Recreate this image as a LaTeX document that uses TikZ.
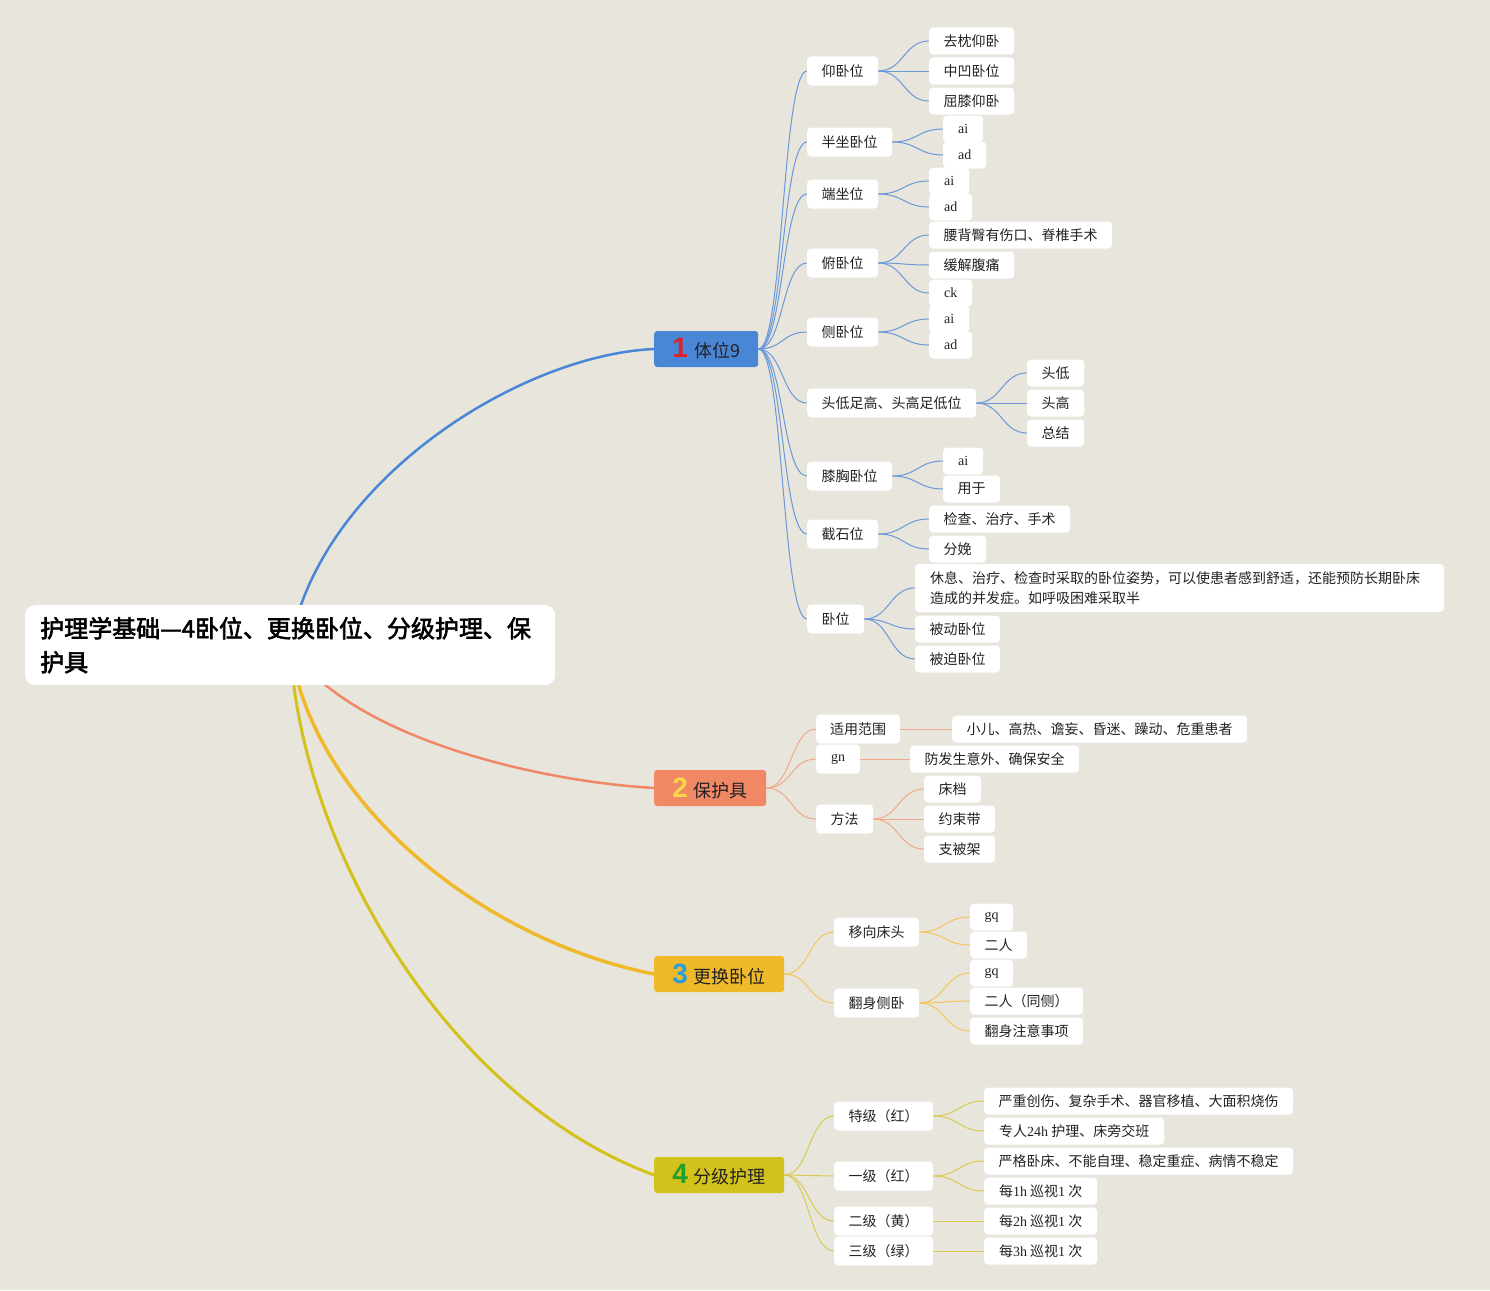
\documentclass[tikz,border=0pt]{standalone}
\usepackage{fontspec}
\setmainfont{Noto Sans CJK SC}
\newfontfamily\latf{Liberation Serif}
\newfontfamily\numf{Liberation Sans}
\newfontfamily\rootf{Noto Sans CJK SC}[FakeBold=2.5]
\newcommand\la[1]{{\latf #1}}
\definecolor{bgc}{HTML}{E8E5DD}
\definecolor{cblue}{HTML}{4A86D6}
\definecolor{csal}{HTML}{F08866}
\definecolor{corg}{HTML}{F0B92C}
\definecolor{cyel}{HTML}{D4C21C}
\definecolor{tblue}{HTML}{6A98D8}
\definecolor{tsal}{HTML}{F0A888}
\definecolor{torg}{HTML}{F2C658}
\definecolor{tyel}{HTML}{DACB50}
\definecolor{nred}{HTML}{E0202A}
\definecolor{nyel}{HTML}{F8D848}
\definecolor{nblu}{HTML}{2A9ED8}
\definecolor{ngrn}{HTML}{22A028}
\definecolor{txt}{HTML}{222222}
\pgfdeclarelayer{bgl}
\pgfdeclarelayer{edges}
\pgfsetlayers{bgl,edges,main}
\newcommand\myedge[3]{\draw[#1] (#2.east) .. controls +(25,0) and +(-25,0) .. (#3.west);}
\tikzset{
  leaf/.style={fill=white, rounded corners=4pt, inner xsep=0pt, inner ysep=0pt,
    minimum height=27pt, anchor=west, text=txt, font=\fontsize{14}{17}\selectfont},
  subn/.style={leaf, minimum height=29pt},
  branch/.style={rounded corners=3pt, inner xsep=0pt, inner ysep=0pt,
    minimum height=36pt, anchor=west, text=txt, font=\fontsize{18}{22}\selectfont},
  e1/.style={tblue, line width=1pt},
  e2/.style={tsal, line width=1pt},
  e3/.style={torg, line width=1pt},
  e4/.style={tyel, line width=1pt},
}
\newcommand\dg[2]{{\color{#1}\numf\bfseries\fontsize{28}{28}\selectfont #2}\hspace{6pt}}
\begin{document}
\begin{tikzpicture}[x=1pt,y=-1pt]
\begin{pgfonlayer}{bgl}
\fill[bgc] (0,0) rectangle (1490,1290);
\end{pgfonlayer}
\useasboundingbox (0,0) rectangle (1490,1290);

% root
\node[fill=white, rounded corners=10pt, anchor=north west, minimum width=530pt, minimum height=80pt,
  inner xsep=15pt, inner ysep=0pt, text width=500pt, align=left, text=black,
  font=\rootf\fontsize{24}{34}\selectfont] (root) at (25,605)
  {护理学基础—4卧位、更换卧位、分级护理、保\\护具};

% branches
\node[branch, fill=cblue, minimum width=104pt] (b1) at (654,349) {\dg{nred}{1}体位9};
\node[branch, fill=csal, minimum width=112pt] (b2) at (654,788) {\dg{nyel}{2}保护具};
\node[branch, fill=corg, minimum width=130pt] (b3) at (654,974) {\dg{nblu}{3}更换卧位};
\node[branch, fill=cyel, minimum width=130pt] (b4) at (654,1175) {\dg{ngrn}{4}分级护理};

% branch 1 subs
\node[subn, minimum width=71pt] (s11) at (807,71) {仰卧位};
\node[subn, minimum width=85pt] (s12) at (807,142) {半坐卧位};
\node[subn, minimum width=71pt] (s13) at (807,194) {端坐位};
\node[subn, minimum width=71pt] (s14) at (807,263) {俯卧位};
\node[subn, minimum width=71pt] (s15) at (807,332) {侧卧位};
\node[subn, minimum width=169pt] (s16) at (807,403) {头低足高、头高足低位};
\node[subn, minimum width=85pt] (s17) at (807,476) {膝胸卧位};
\node[subn, minimum width=71pt] (s18) at (807,534) {截石位};
\node[subn, minimum width=57pt] (s19) at (807,619) {卧位};

% branch 1 leaves
\node[leaf, minimum width=85pt] (l111) at (929,41) {去枕仰卧};
\node[leaf, minimum width=85pt] (l112) at (929,71) {中凹卧位};
\node[leaf, minimum width=85pt] (l113) at (929,101) {屈膝仰卧};
\node[leaf, minimum width=40pt] (l121) at (943,129) {\la{ai}};
\node[leaf, minimum width=43pt] (l122) at (943,155) {\la{ad}};
\node[leaf, minimum width=40pt] (l131) at (929,181) {\la{ai}};
\node[leaf, minimum width=43pt] (l132) at (929,207) {\la{ad}};
\node[leaf, minimum width=183pt] (l141) at (929,235) {腰背臀有伤口、脊椎手术};
\node[leaf, minimum width=85pt] (l142) at (929,265) {缓解腹痛};
\node[leaf, minimum width=43pt] (l143) at (929,293) {\la{ck}};
\node[leaf, minimum width=40pt] (l151) at (929,319) {\la{ai}};
\node[leaf, minimum width=43pt] (l152) at (929,345) {\la{ad}};
\node[leaf, minimum width=57pt] (l161) at (1027,373) {头低};
\node[leaf, minimum width=57pt] (l162) at (1027,403) {头高};
\node[leaf, minimum width=57pt] (l163) at (1027,433) {总结};
\node[leaf, minimum width=40pt] (l171) at (943,461) {\la{ai}};
\node[leaf, minimum width=57pt] (l172) at (943,489) {用于};
\node[leaf, minimum width=141pt] (l181) at (929,519) {检查、治疗、手术};
\node[leaf, minimum width=57pt] (l182) at (929,549) {分娩};
\node[leaf, minimum width=529pt, minimum height=48pt, text width=499pt, align=left,
  font=\fontsize{14}{20}\selectfont] (l191) at (915,588)
  {休息、治疗、检查时采取的卧位姿势，可以使患者感到舒适，还能预防长期卧床\\造成的并发症。如呼吸困难采取半};
\node[leaf, minimum width=85pt] (l192) at (915,629) {被动卧位};
\node[leaf, minimum width=85pt] (l193) at (915,659) {被迫卧位};

% branch 2
\node[subn, minimum width=84pt] (s21) at (816,729) {适用范围};
\node[subn, minimum width=44pt] (s22) at (816,759) {\la{gn}};
\node[subn, minimum width=57pt] (s23) at (816,819) {方法};
\node[leaf, minimum width=295pt] (l211) at (952,729) {小儿、高热、谵妄、昏迷、躁动、危重患者};
\node[leaf, minimum width=169pt] (l221) at (910,759) {防发生意外、确保安全};
\node[leaf, minimum width=57pt] (l231) at (924,789) {床档};
\node[leaf, minimum width=71pt] (l232) at (924,819) {约束带};
\node[leaf, minimum width=71pt] (l233) at (924,849) {支被架};

% branch 3
\node[subn, minimum width=85pt] (s31) at (834,932) {移向床头};
\node[subn, minimum width=85pt] (s32) at (834,1003) {翻身侧卧};
\node[leaf, minimum width=43pt] (l311) at (970,917) {\la{gq}};
\node[leaf, minimum width=57pt] (l312) at (970,945) {二人};
\node[leaf, minimum width=43pt] (l321) at (970,973) {\la{gq}};
\node[leaf, minimum width=113pt] (l322) at (970,1001) {二人（同侧）};
\node[leaf, minimum width=113pt] (l323) at (970,1031) {翻身注意事项};

% branch 4
\node[subn, minimum width=99pt] (s41) at (834,1116) {特级（红）};
\node[subn, minimum width=99pt] (s42) at (834,1176) {一级（红）};
\node[subn, minimum width=99pt] (s43) at (834,1221) {二级（黄）};
\node[subn, minimum width=99pt] (s44) at (834,1251) {三级（绿）};
\node[leaf, minimum width=309pt] (l411) at (984,1101) {严重创伤、复杂手术、器官移植、大面积烧伤};
\node[leaf, minimum width=180pt] (l412) at (984,1131) {专人\la{24h} 护理、床旁交班};
\node[leaf, minimum width=309pt] (l421) at (984,1161) {严格卧床、不能自理、稳定重症、病情不稳定};
\node[leaf, minimum width=113pt] (l422) at (984,1191) {每\la{1h} 巡视\la{1} 次};
\node[leaf, minimum width=113pt] (l431) at (984,1221) {每\la{2h} 巡视\la{1} 次};
\node[leaf, minimum width=113pt] (l441) at (984,1251) {每\la{3h} 巡视\la{1} 次};

\begin{pgfonlayer}{edges}
% main branches
\draw[cblue, line width=2.5pt] (root.center) .. controls (320,480) and (520,355) .. (b1.west);
\draw[csal, line width=2.5pt] (root.center) .. controls (340,730) and (520,780) .. (b2.west);
\draw[corg, line width=3.5pt] (root.center) .. controls (310,800) and (480,940) .. (b3.west);
\draw[cyel, line width=3pt] (root.center) .. controls (300,850) and (450,1100) .. (b4.west);
% branch 1
\foreach \s in {s11,s12,s13,s14,s15,s16,s17,s18,s19} {\myedge{e1}{b1}{\s}}
\foreach \l in {l111,l112,l113} {\myedge{e1}{s11}{\l}}
\foreach \l in {l121,l122} {\myedge{e1}{s12}{\l}}
\foreach \l in {l131,l132} {\myedge{e1}{s13}{\l}}
\foreach \l in {l141,l142,l143} {\myedge{e1}{s14}{\l}}
\foreach \l in {l151,l152} {\myedge{e1}{s15}{\l}}
\foreach \l in {l161,l162,l163} {\myedge{e1}{s16}{\l}}
\foreach \l in {l171,l172} {\myedge{e1}{s17}{\l}}
\foreach \l in {l181,l182} {\myedge{e1}{s18}{\l}}
\foreach \l in {l191,l192,l193} {\myedge{e1}{s19}{\l}}
% branch 2
\foreach \s in {s21,s22,s23} {\myedge{e2}{b2}{\s}}
\myedge{e2}{s21}{l211}
\myedge{e2}{s22}{l221}
\foreach \l in {l231,l232,l233} {\myedge{e2}{s23}{\l}}
% branch 3
\foreach \s in {s31,s32} {\myedge{e3}{b3}{\s}}
\foreach \l in {l311,l312} {\myedge{e3}{s31}{\l}}
\foreach \l in {l321,l322,l323} {\myedge{e3}{s32}{\l}}
% branch 4
\foreach \s in {s41,s42,s43,s44} {\myedge{e4}{b4}{\s}}
\foreach \l in {l411,l412} {\myedge{e4}{s41}{\l}}
\foreach \l in {l421,l422} {\myedge{e4}{s42}{\l}}
\myedge{e4}{s43}{l431}
\myedge{e4}{s44}{l441}
\end{pgfonlayer}
\end{tikzpicture}
\end{document}
